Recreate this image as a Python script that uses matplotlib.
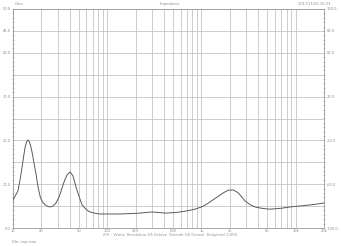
#!/usr/bin/env python3
"""Impedance magnitude sweep, 10 Hz - 20 kHz, redrawn from a measurement screenshot."""

import matplotlib
matplotlib.use("Agg")
import matplotlib.pyplot as plt
from matplotlib.ticker import FixedLocator, NullFormatter

freq_hz = [10, 11.3, 12.0, 12.5, 13.0, 13.4, 13.9, 14.4, 14.9, 15.5, 16.1, 16.7, 17.5, 18.4,
           19.5, 20.8, 22.5, 24.7, 26.5, 28.6, 31.0, 33.1, 35.2, 37.4, 40.3, 43.3, 45.5,
           47.7, 51.0, 54.0, 60.0, 65.6, 75.0, 83.6, 110, 136, 180, 222, 260, 298,
           350, 411, 500, 591, 720, 853, 1000, 1150, 1300, 1500, 1700, 1912, 2160,
           2440, 2700, 2900, 3300, 3700, 4500, 5350, 7000, 8690, 12000, 16000, 20000]
impedance_ohm = [6.4, 8.5, 11.5, 14.0, 16.5, 18.3, 19.6, 20.1, 19.7, 18.5, 16.8, 14.8, 12.5, 9.5,
                 7.0, 5.8, 5.1, 4.8, 5.0, 5.7, 7.2, 9.1, 10.8, 12.1, 12.8, 11.9, 10.2,
                 8.7, 6.8, 5.3, 4.2, 3.65, 3.35, 3.2, 3.2, 3.2, 3.3, 3.4, 3.55, 3.65,
                 3.55, 3.4, 3.5, 3.65, 3.95, 4.3, 4.8, 5.5, 6.3, 7.2, 8.0, 8.6, 8.7,
                 8.1, 7.0, 6.2, 5.3, 4.8, 4.45, 4.3, 4.5, 4.8, 5.1, 5.4, 5.7]

X_TICKS = [10, 20, 50, 100, 200, 500, 1000, 2000, 5000, 10000, 20000]
X_LABELS = ["10", "20", "50", "100", "200", "500", "1k", "2k", "5k", "10k", "20k"]
Y_TICKS = [0, 10, 20, 30, 40, 45, 50]
Y2_TICKS = [-100, -60, -20, 20, 60, 80, 100]

W, H = 341, 246
GRID = "#c4c4c4"
AXIS = "#9a9a9a"
TEXT = "#8c8c8c"
FS = 2.6

fig = plt.figure(figsize=(W / 100, H / 100), dpi=100)
fig.patch.set_facecolor("white")
ax = fig.add_axes([13 / W, (H - 228) / H, (324 - 13) / W, (228 - 9) / H])

ax.plot(freq_hz, impedance_ohm, color="#5a5a5a", linewidth=0.7, zorder=3)

ax.set_xscale("log")
ax.set_xlim(10, 20000)
ax.set_ylim(0, 50)

# vertical grid at every 1-2-...-9 step, horizontal grid every 5 ohm
minor = [m * d for d in (10, 100, 1000, 10000) for m in range(1, 10) if 10 <= m * d <= 20000]
ax.xaxis.set_major_locator(FixedLocator(X_TICKS))
ax.xaxis.set_minor_locator(FixedLocator(minor))
ax.set_xticklabels(X_LABELS)
ax.xaxis.set_minor_formatter(NullFormatter())
ax.yaxis.set_major_locator(FixedLocator(Y_TICKS))
ax.yaxis.set_minor_locator(FixedLocator(range(0, 51)))
ax.grid(True, which="both", axis="x", color=GRID, linewidth=0.6)
for v in range(0, 51, 5):
    ax.axhline(v, color=GRID, linewidth=0.6, zorder=1)

ax.tick_params(axis="both", which="both", colors=AXIS, labelcolor=TEXT, labelsize=FS,
               length=1.5, width=0.4, pad=1, direction="inout")
ax.tick_params(axis="x", which="minor", length=0)
ax.tick_params(axis="x", which="major", length=0)
ax.set_yticklabels([f"{v:.1f}" for v in Y_TICKS])
for s in ax.spines.values():
    s.set_color(AXIS)
    s.set_linewidth(0.6)

ax2 = ax.twinx()
ax2.set_ylim(-100, 100)
ax2.yaxis.set_major_locator(FixedLocator(Y2_TICKS))
ax2.yaxis.set_minor_locator(FixedLocator(range(-100, 101, 4)))
ax2.set_yticklabels([f"{v:.1f}" for v in Y2_TICKS])
ax2.tick_params(axis="y", which="both", colors=AXIS, labelcolor=TEXT, labelsize=FS,
                length=1.5, width=0.4, pad=1, direction="inout")
for s in ax2.spines.values():
    s.set_visible(False)

fig.text(15 / W, 1 - 4 / H, "Ohm", fontsize=FS, color=TEXT, va="center")
fig.text(170 / W, 1 - 4 / H, "Impedance", fontsize=FS, color=TEXT, va="center", ha="center")
fig.text(330 / W, 1 - 4 / H, "2017/11/20 10:23", fontsize=FS, color=TEXT, va="center", ha="right")
fig.text(170 / W, 1 - 235 / H,
         "Z(f) : 1Vrms  Resolution 1/6 Octave  Smooth 1/6 Octave  Delay(ms) 0.000",
         fontsize=FS, color=TEXT, va="center", ha="center")
fig.text(12 / W, 1 - 242 / H, "File: imp.zma", fontsize=FS, color=TEXT, va="center")

fig.savefig("out.png", dpi=100, facecolor=fig.get_facecolor())
plt.close(fig)
